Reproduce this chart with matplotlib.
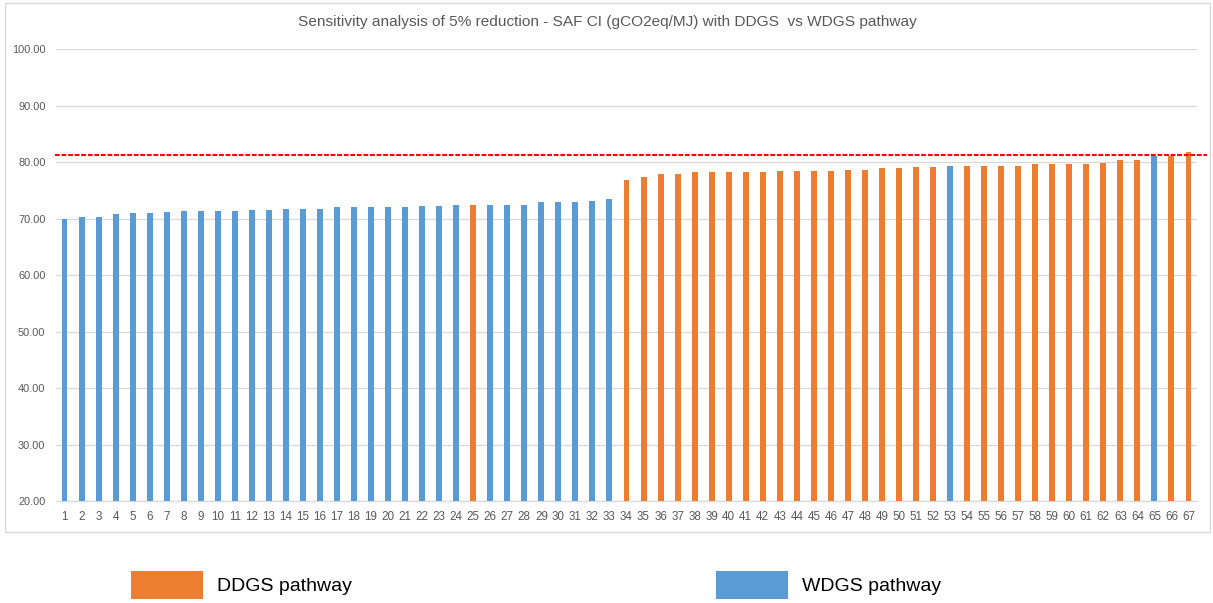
import matplotlib
matplotlib.use("Agg")
import matplotlib.pyplot as plt
from matplotlib.patches import Patch, Rectangle

plt.rcParams["font.family"] = ["Liberation Sans", "DejaVu Sans"]

# Scenario numbers, SAF carbon intensity (gCO2eq/MJ) and the pathway of each scenario
scenarios = list(range(1, 68))
saf_ci = [
    69.90, 70.35, 70.35, 70.76, 70.94, 71.06, 71.10, 71.30, 71.30, 71.30,
    71.30, 71.50, 71.50, 71.65, 71.80, 71.80, 72.00, 72.00, 72.00, 72.00,
    72.00, 72.18, 72.20, 72.35, 72.35, 72.50, 72.50, 72.50, 72.90, 72.90,
    72.90, 73.20, 73.40, 76.90, 77.30, 78.00, 78.00, 78.20, 78.35, 78.35,
    78.35, 78.35, 78.50, 78.50, 78.53, 78.50, 78.70, 78.70, 78.90, 79.06,
    79.20, 79.20, 79.40, 79.40, 79.40, 79.40, 79.40, 79.60, 79.60, 79.60,
    79.60, 79.94, 80.47, 80.47, 81.18, 81.18, 81.88,
]
pathway = (["WDGS"] * 24 + ["DDGS"] + ["WDGS"] * 8 + ["DDGS"] * 19 + ["WDGS"]
           + ["DDGS"] * 11 + ["WDGS"] + ["DDGS"] * 2)
baseline_ci = 81.2

y_ticks = [20, 30, 40, 50, 60, 70, 80, 90, 100]
title = "Sensitivity analysis of 5% reduction - SAF CI (gCO2eq/MJ) with DDGS  vs WDGS pathway"
legend_labels = {"DDGS": "DDGS pathway", "WDGS": "WDGS pathway"}

colors = {"DDGS": "#ED7D31", "WDGS": "#5B9BD5"}
grid_color = "#D9D9D9"
text_color = "#595959"

W, H = 1213, 603
fig = plt.figure(figsize=(W / 100, H / 100), dpi=100)
fig.patch.set_facecolor("white")

# chart frame
fig.add_artist(Rectangle((5 / W, 1 - 532 / H), 1205 / W, 529 / H,
                         transform=fig.transFigure, fill=False,
                         edgecolor=grid_color, linewidth=1.0))

ax = fig.add_axes([56 / W, 1 - 501 / H, (1197 - 56) / W, (501 - 49.3) / H])

bar_colors = [colors[p] for p in pathway]
ax.bar(scenarios, [v - y_ticks[0] for v in saf_ci], bottom=y_ticks[0],
       width=0.35, color=bar_colors, zorder=3)

ax.axhline(baseline_ci, xmin=-0.001, xmax=1.0088, color="#FF0000",
           linewidth=1.5, dashes=(2.3, 0.85), clip_on=False, zorder=4)

ax.set_xlim(0.5, len(scenarios) + 0.5)
ax.set_ylim(y_ticks[0], y_ticks[-1])
ax.set_yticks(y_ticks)
ax.set_yticklabels([f"{t:.2f}" for t in y_ticks])
ax.set_xticks(scenarios)
ax.set_xticklabels([str(s) for s in scenarios])

ax.grid(axis="y", color=grid_color, linewidth=0.9, zorder=0)
ax.set_axisbelow(True)
for side in ("top", "right", "left"):
    ax.spines[side].set_visible(False)
ax.spines["bottom"].set_color(grid_color)
ax.spines["bottom"].set_linewidth(0.9)
ax.spines["bottom"].set_zorder(2)

ax.tick_params(axis="both", length=0, colors=text_color)
ax.tick_params(axis="y", labelsize=7.9, pad=7.5)
ax.tick_params(axis="x", labelsize=8.4, pad=7)

fig.text(607 / W, 1 - 22 / H, title, ha="center", va="center",
         fontsize=11.1, color=text_color)

# legend entries below the chart frame
for key, x0 in (("DDGS", 131), ("WDGS", 716)):
    fig.legend(handles=[Patch(facecolor=colors[key], edgecolor="none",
                              label=legend_labels[key])],
               loc="center left", bbox_to_anchor=(x0 / W, 1 - 585 / H),
               frameon=False, fontsize=14, handlelength=3.68,
               handleheight=1.8, handletextpad=0.72, borderpad=0,
               borderaxespad=0, labelcolor="black")

fig.savefig("out.png", dpi=100, facecolor="white")
